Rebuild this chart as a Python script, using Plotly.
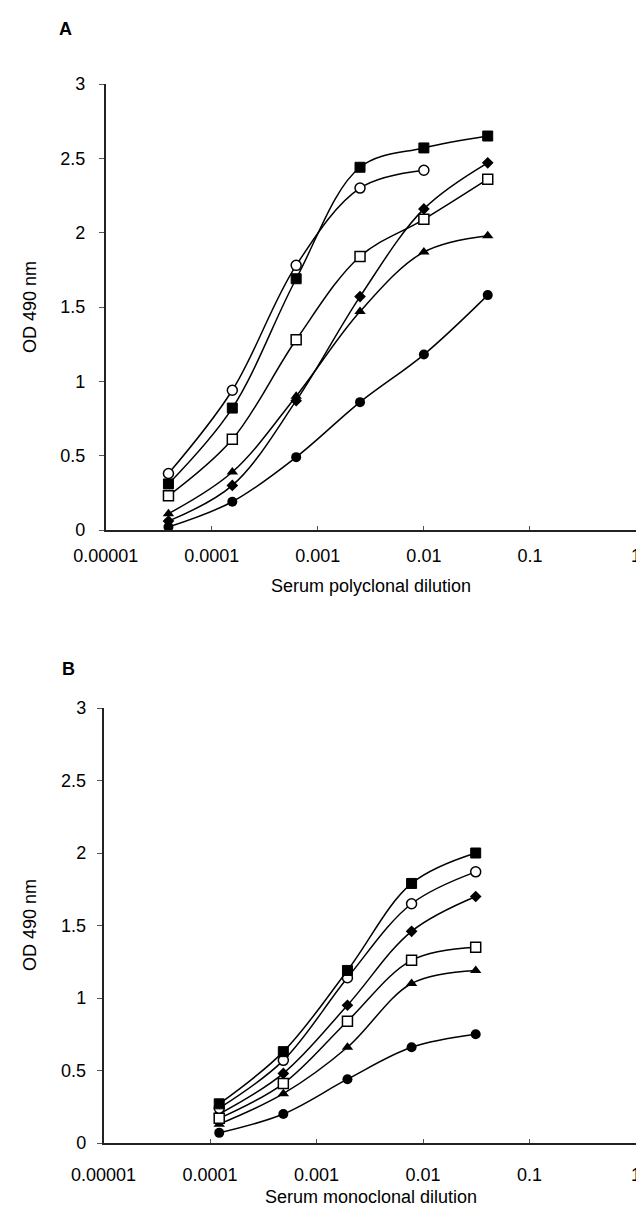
import plotly.graph_objects as go

# ---------------- data ----------------
dil_a = [1/25600, 1/6400, 1/1600, 1/400, 1/100, 1/25]
dil_b = [1/8192, 1/2048, 1/512, 1/128, 1/32]

a_filled_square = [0.31, 0.82, 1.69, 2.44, 2.57, 2.65]
a_open_circle = [0.38, 0.94, 1.78, 2.30, 2.42]
a_open_square = [0.23, 0.61, 1.28, 1.84, 2.09, 2.36]
a_diamond = [0.06, 0.30, 0.87, 1.57, 2.16, 2.47]
a_triangle = [0.11, 0.39, 0.90, 1.47, 1.87, 1.98]
a_filled_circle = [0.02, 0.19, 0.49, 0.86, 1.18, 1.58]

b_filled_square = [0.27, 0.63, 1.19, 1.79, 2.00]
b_open_circle = [0.24, 0.57, 1.14, 1.65, 1.87]
b_diamond = [0.20, 0.48, 0.95, 1.46, 1.70]
b_open_square = [0.17, 0.41, 0.84, 1.26, 1.35]
b_triangle = [0.13, 0.34, 0.66, 1.10, 1.19]
b_filled_circle = [0.07, 0.20, 0.44, 0.66, 0.75]

x_tickvals = [1e-5, 1e-4, 1e-3, 1e-2, 1e-1, 1]
x_ticktext = ["0.00001", "0.0001", "0.001", "0.01", "0.1", "1"]
y_tickvals = [0, 0.5, 1, 1.5, 2, 2.5, 3]
y_ticktext = ["0", "0.5", "1", "1.5", "2", "2.5", "3"]

y_title = "OD 490 nm"
x_title_a = "Serum polyclonal dilution"
x_title_b = "Serum monoclonal dilution"

# ---------------- styles ----------------
FONT = "Liberation Sans, Arial, Helvetica, sans-serif"
styles = {
    "filled_square": dict(symbol="square", size=10, color="black", line=dict(color="black", width=1)),
    "open_circle": dict(symbol="circle", size=10, color="white", line=dict(color="black", width=1.5)),
    "open_square": dict(symbol="square", size=10, color="white", line=dict(color="black", width=1.5)),
    "diamond": dict(symbol="diamond", size=9, color="black", line=dict(color="black", width=0)),
    "triangle": dict(symbol="triangle-up", size=10, color="black", line=dict(color="black", width=0)),
    "filled_circle": dict(symbol="circle", size=10, color="black", line=dict(color="black", width=0)),
}

fig = go.Figure()

def add(xs, ys, key, xa, ya):
    fig.add_trace(go.Scatter(
        x=xs[:len(ys)], y=ys, mode="lines+markers",
        line=dict(color="black", width=1.5, shape="spline", smoothing=1.0),
        marker=styles[key], xaxis=xa, yaxis=ya, showlegend=False,
        name=key,
    ))

for ys, key in [(a_filled_circle, "filled_circle"), (a_triangle, "triangle"),
                (a_diamond, "diamond"), (a_open_square, "open_square"),
                (a_open_circle, "open_circle"), (a_filled_square, "filled_square")]:
    add(dil_a, ys, key, "x", "y")

for ys, key in [(b_filled_circle, "filled_circle"), (b_triangle, "triangle"),
                (b_diamond, "diamond"), (b_open_square, "open_square"),
                (b_open_circle, "open_circle"), (b_filled_square, "filled_square")]:
    add(dil_b, ys, key, "x2", "y2")

W, H = 644, 1207

def px_x(p):
    return p / W

def px_y(p):
    return 1 - p / H

def xaxis_cfg(standoff):
    return dict(type="log", range=[-5, 0], tickvals=x_tickvals, ticktext=x_ticktext,
                showline=True, linecolor="#222", linewidth=1.5, showgrid=False,
                zeroline=False, ticks="inside", ticklen=4, tickcolor="#555",
                tickfont=dict(family=FONT, size=18, color="black"),
                ticklabelstandoff=standoff, automargin=False)

def yaxis_cfg(standoff):
    return dict(range=[0, 3], tickvals=y_tickvals, ticktext=y_ticktext,
                showline=True, linecolor="#222", linewidth=1.5, showgrid=False,
                zeroline=False, ticks="outside", ticklen=5, tickcolor="#555",
                tickfont=dict(family=FONT, size=18, color="black"),
                ticklabelstandoff=standoff, automargin=False)

def label(text, x, y, angle=0, bold=False):
    return dict(text=f"<b>{text}</b>" if bold else text, x=px_x(x), y=px_y(y),
                xref="paper", yref="paper", showarrow=False,
                xanchor="center", yanchor="middle", textangle=angle,
                font=dict(family=FONT, size=18, color="black"))

fig.update_layout(
    width=W, height=H,
    margin=dict(l=0, r=0, t=0, b=0, autoexpand=False),
    paper_bgcolor="white", plot_bgcolor="white",
    xaxis=dict(domain=[px_x(97.7), px_x(628)], anchor="y", **xaxis_cfg(9)),
    yaxis=dict(domain=[px_y(522), px_y(76)], anchor="x", **yaxis_cfg(10)),
    xaxis2=dict(domain=[px_x(95.5), px_x(628)], anchor="y2", **xaxis_cfg(15)),
    yaxis2=dict(domain=[px_y(1135), px_y(700)], anchor="x2", **yaxis_cfg(7)),
    annotations=[
        label("A", 57, 21, bold=True),
        label("B", 60, 661, bold=True),
        label(y_title, 22, 299, angle=-90),
        label(y_title, 22, 917, angle=-90),
        label(x_title_a, 363, 578),
        label(x_title_b, 363, 1189),
    ],
)

fig.write_html("out.html")
